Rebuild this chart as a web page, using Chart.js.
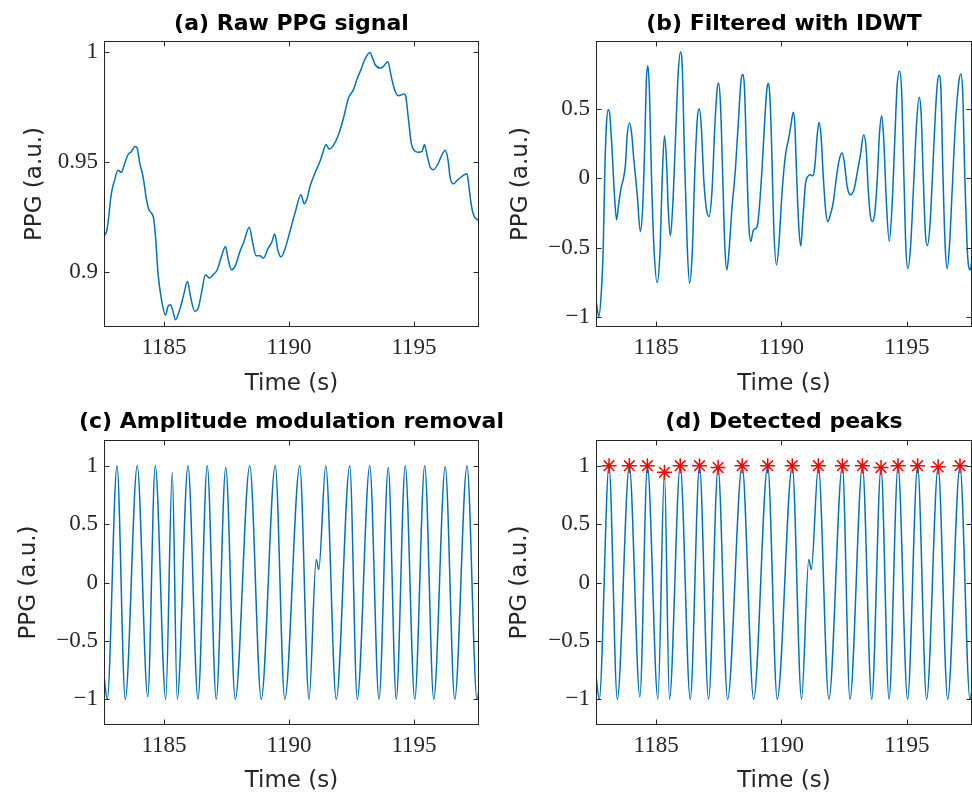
<!DOCTYPE html>
<html><head><meta charset="utf-8">
<script src="https://cdn.jsdelivr.net/npm/chart.js@4.4.1/dist/chart.umd.min.js"></script>
<style>
html,body{margin:0;padding:0;background:#fff;width:972px;height:797px;overflow:hidden}
canvas{position:absolute}
</style></head><body>
<canvas id="ca" width="583" height="400" style="left:0px;top:0px"></canvas>
<canvas id="cb" width="596" height="400" style="left:486px;top:0px"></canvas>
<canvas id="cc" width="583" height="397" style="left:0px;top:400px"></canvas>
<canvas id="cd" width="596" height="397" style="left:486px;top:400px"></canvas>
<script>
// ---------- data ----------
const titles = ['(a) Raw PPG signal', '(b) Filtered with IDWT', '(c) Amplitude modulation removal', '(d) Detected peaks'];
const xLabel = 'Time (s)';
const yLabel = 'PPG (a.u.)';

const xTicks = [1185, 1190, 1195];
const xTickLabels = ['1185', '1190', '1195'];
const yTicksA = [0.9, 0.95, 1];
const yTickLabelsA = ['0.9', '0.95', '1'];
const yTicksB = [-1, -0.5, 0, 0.5];
const yTickLabelsB = ['\u22121', '\u22120.5', '0', '0.5'];
const yTicksC = [-1, -0.5, 0, 0.5, 1];
const yTickLabelsC = ['\u22121', '\u22120.5', '0', '0.5', '1'];

// (a) raw PPG
const timeA = [1182.60,1182.72,1182.90,1183.03,1183.16,1183.30,1183.39,1183.56,1183.70,1183.84,1183.92,1184.03,1184.16,1184.30,1184.40,1184.50,1184.59,1184.67,1184.76,1184.90,1185.06,1185.16,1185.26,1185.34,1185.46,1185.63,1185.79,1185.94,1186.06,1186.23,1186.37,1186.50,1186.66,1186.81,1186.97,1187.13,1187.30,1187.46,1187.57,1187.70,1187.84,1188.04,1188.20,1188.41,1188.55,1188.68,1188.84,1188.97,1189.17,1189.31,1189.43,1189.55,1189.68,1189.84,1190.04,1190.24,1190.48,1190.61,1190.71,1190.84,1191.04,1191.24,1191.35,1191.48,1191.61,1191.75,1191.98,1192.18,1192.38,1192.58,1192.71,1192.88,1193.04,1193.24,1193.34,1193.45,1193.65,1193.78,1193.95,1194.09,1194.22,1194.38,1194.61,1194.67,1194.78,1194.89,1195.02,1195.18,1195.32,1195.42,1195.52,1195.65,1195.78,1195.96,1196.12,1196.25,1196.36,1196.45,1196.58,1196.72,1196.92,1197.12,1197.18,1197.28,1197.38,1197.56,1197.62];
const ppgRaw = [0.9162,0.9192,0.9360,0.9420,0.9462,0.9453,0.9480,0.9533,0.9548,0.9571,0.9565,0.9495,0.9435,0.9329,0.9283,0.9268,0.9241,0.9147,0.8995,0.8874,0.8804,0.8844,0.8851,0.8829,0.8783,0.8829,0.8897,0.8957,0.8889,0.8821,0.8836,0.8905,0.8988,0.8973,0.8988,0.9010,0.9071,0.9116,0.9056,0.9010,0.9025,0.9094,0.9139,0.9203,0.9132,0.9074,0.9074,0.9063,0.9109,0.9135,0.9173,0.9101,0.9068,0.9105,0.9185,0.9268,0.9351,0.9310,0.9329,0.9389,0.9450,0.9503,0.9541,0.9579,0.9559,0.9571,0.9624,0.9700,0.9791,0.9829,0.9874,0.9920,0.9968,0.9998,0.9973,0.9942,0.9927,0.9935,0.9956,0.9889,0.9829,0.9801,0.9809,0.9798,0.9692,0.9586,0.9551,0.9544,0.9548,0.9579,0.9533,0.9476,0.9465,0.9492,0.9533,0.9553,0.9510,0.9427,0.9401,0.9416,0.9435,0.9447,0.9405,0.9314,0.9260,0.9235,0.9230];

// (b) IDWT filtered
const timeB = [1182.62,1182.71,1182.81,1182.89,1182.95,1183.02,1183.09,1183.15,1183.24,1183.34,1183.42,1183.51,1183.60,1183.71,1183.78,1183.84,1183.94,1184.02,1184.11,1184.24,1184.37,1184.47,1184.55,1184.61,1184.67,1184.73,1184.81,1184.91,1185.04,1185.15,1185.24,1185.33,1185.41,1185.49,1185.57,1185.66,1185.77,1185.88,1185.97,1186.04,1186.13,1186.24,1186.33,1186.44,1186.54,1186.64,1186.72,1186.80,1186.90,1187.01,1187.11,1187.23,1187.34,1187.43,1187.49,1187.57,1187.67,1187.74,1187.82,1187.90,1188.03,1188.16,1188.30,1188.39,1188.46,1188.52,1188.60,1188.70,1188.78,1188.86,1188.94,1189.03,1189.12,1189.23,1189.34,1189.43,1189.48,1189.53,1189.60,1189.69,1189.80,1189.89,1190.03,1190.16,1190.29,1190.38,1190.47,1190.53,1190.60,1190.69,1190.77,1190.85,1190.96,1191.05,1191.16,1191.25,1191.33,1191.42,1191.50,1191.58,1191.66,1191.76,1191.85,1191.95,1192.06,1192.18,1192.29,1192.42,1192.51,1192.62,1192.75,1192.89,1193.02,1193.15,1193.28,1193.38,1193.46,1193.55,1193.62,1193.72,1193.82,1193.91,1194.00,1194.08,1194.18,1194.30,1194.41,1194.52,1194.61,1194.71,1194.79,1194.88,1194.96,1195.04,1195.15,1195.28,1195.39,1195.49,1195.57,1195.65,1195.74,1195.82,1195.92,1196.04,1196.14,1196.22,1196.29,1196.36,1196.44,1196.53,1196.61,1196.70,1196.81,1196.94,1197.07,1197.15,1197.23,1197.31,1197.42,1197.53,1197.61];
const ppgFiltered = [-0.90,-0.995,-0.827,-0.49,0.04,0.40,0.495,0.459,0.207,-0.13,-0.298,-0.178,-0.07,0.014,0.11,0.303,0.399,0.327,0.135,-0.106,-0.382,-0.178,0.279,0.712,0.8125,0.639,0.038,-0.49,-0.75,-0.538,-0.01,0.308,0.135,-0.25,-0.413,-0.202,0.279,0.76,0.911,0.808,0.159,-0.49,-0.755,-0.538,0.038,0.423,0.502,0.375,-0.01,-0.226,-0.274,-0.082,0.375,0.639,0.6875,0.519,-0.082,-0.49,-0.659,-0.538,-0.202,0.0625,0.471,0.712,0.748,0.663,0.207,-0.346,-0.454,-0.382,-0.363,-0.346,-0.202,0.087,0.447,0.663,0.683,0.615,0.279,-0.346,-0.623,-0.49,-0.08,0.17,0.29,0.39,0.476,0.399,0.038,-0.346,-0.486,-0.298,-0.034,0.014,0.026,0.019,0.087,0.303,0.404,0.303,0.038,-0.226,-0.31,-0.262,-0.178,-0.01,0.123,0.183,0.111,-0.058,-0.118,-0.082,0.038,0.171,0.315,0.207,-0.082,-0.274,-0.31,-0.25,-0.01,0.327,0.452,0.279,-0.154,-0.454,-0.202,0.279,0.663,0.772,0.639,0.038,-0.49,-0.649,-0.49,-0.01,0.399,0.584,0.471,0.038,-0.394,-0.483,-0.346,0.087,0.471,0.6875,0.743,0.639,0.038,-0.49,-0.649,-0.49,-0.082,0.399,0.6875,0.752,0.615,0.038,-0.538,-0.659,-0.5625];

// (c)/(d) amplitude-normalised signal
const timeC = [1182.60,1182.73,1183.12,1183.45,1183.93,1184.35,1184.65,1185.07,1185.33,1185.53,1185.96,1186.36,1186.73,1187.09,1187.47,1187.85,1188.43,1188.89,1189.45,1189.83,1190.43,1190.80,1191.09,1191.19,1191.47,1191.89,1192.43,1192.73,1193.23,1193.60,1193.97,1194.29,1194.65,1195.03,1195.43,1195.79,1196.25,1196.63,1197.12,1197.52,1197.65];
const ppgNorm = [-0.80,-1,1,-1,1,-0.98,1,-1,0.944,-1,1,-1,1,-1,0.984,-1,1,-1,1,-1,1,-1,0.196,0.111,1,-1,1,-1,1,-1,0.984,-1,1,-1,1,-1,0.99,-1,1,-1,-0.83];

// (d) detected peaks
const peakTimes = [1183.12,1183.93,1184.65,1185.33,1185.96,1186.73,1187.47,1188.43,1189.45,1190.43,1191.47,1192.43,1193.23,1193.97,1194.65,1195.43,1196.25,1197.12];
const peakValues = [1,1,1,0.944,1,1,0.984,1,1,1,1,1,1,0.984,1,1,0.99,1];

// ---------- drawing ----------
const pts = (xs, ys) => xs.map((x, i) => ({x: x, y: ys[i]}));

const boxPlugin = {
  id: 'matlabBox',
  afterDraw(chart) {
    const {ctx, chartArea: a, scales: {x, y}} = chart;
    const L = Math.round(a.left) + 0.5, R = Math.round(a.right) - 0.5;
    const T = Math.round(a.top) + 0.5, B = Math.round(a.bottom) - 0.5;
    ctx.save();
    ctx.strokeStyle = '#262626';
    ctx.lineWidth = 1;
    ctx.strokeRect(L, T, R - L, B - T);
    const len = 5;
    ctx.beginPath();
    x.ticks.forEach(t => {
      const p = Math.round(x.getPixelForValue(t.value)) + 0.5;
      ctx.moveTo(p, B); ctx.lineTo(p, B - len);
      ctx.moveTo(p, T); ctx.lineTo(p, T + len);
    });
    y.ticks.forEach(t => {
      const p = Math.round(y.getPixelForValue(t.value)) + 0.5;
      ctx.moveTo(L, p); ctx.lineTo(L + len, p);
      ctx.moveTo(R, p); ctx.lineTo(R - len, p);
    });
    ctx.stroke();
    ctx.restore();
  }
};

function makeChart(id, o) {
  const ds = [];
  if (o.markers) {
    ds.push({data: o.markers, showLine: false, pointStyle: 'star', pointRadius: 7.5, pointHoverRadius: 7.5,
      borderColor: '#FF0000', backgroundColor: '#FF0000', pointBorderWidth: 1.5, borderWidth: 1.5, order: 0});
  }
  ds.push({data: o.data, showLine: true, borderColor: '#0072BD', backgroundColor: '#0072BD', borderWidth: 1.5,
    pointRadius: 0, pointHoverRadius: 0, cubicInterpolationMode: 'monotone', fill: false, order: 1});
  return new Chart(document.getElementById(id), {
    type: 'scatter',
    data: {datasets: ds},
    options: {
      responsive: false, animation: false, devicePixelRatio: 1,
      events: [],
      layout: {padding: 0},
      plugins: {
        legend: {display: false}, tooltip: {enabled: false},
        title: {display: true, text: o.title, color: '#000000',
          font: {family: 'DejaVu Sans', size: 22, weight: 'bold', lineHeight: 1.2},
          padding: {top: o.tPadTop, bottom: o.tPadBottom}}
      },
      scales: {
        x: {
          type: 'linear', position: 'bottom', min: 1182.6, max: 1197.6,
          grid: {display: false, drawTicks: false}, border: {display: false},
          afterBuildTicks: s => { s.ticks = xTicks.map(v => ({value: v})); },
          afterFit: s => { s.height = o.xH; },
          ticks: {autoSkip: false, maxRotation: 0, minRotation: 0, padding: 7, color: '#262626',
            font: {family: 'Liberation Serif', size: 23},
            callback: v => xTickLabels[xTicks.indexOf(v)]},
          title: {display: true, text: xLabel, color: '#262626',
            font: {family: 'DejaVu Sans', size: 23, lineHeight: 1.2},
            padding: {top: 0, bottom: o.xtPad}}
        },
        y: {
          type: 'linear', position: 'left', min: o.yMin, max: o.yMax,
          grid: {display: false, drawTicks: false}, border: {display: false},
          afterBuildTicks: s => { s.ticks = o.yTicks.map(v => ({value: v})); },
          afterFit: s => { s.width = o.yW; },
          ticks: {autoSkip: false, padding: 6, color: '#262626',
            font: {family: 'Liberation Serif', size: 23},
            callback: v => o.yTickLabels[o.yTicks.indexOf(v)]},
          title: {display: true, text: yLabel, color: '#262626',
            font: {family: 'DejaVu Sans', size: 23, lineHeight: 1.2},
            padding: {top: o.ytPad, bottom: 0}}
        },
        // empty right-hand spacer so the title is centred over the plot box
        yRight: {
          type: 'linear', position: 'right', min: o.yMin, max: o.yMax, display: true,
          grid: {display: false, drawTicks: false}, border: {display: false},
          ticks: {display: false},
          afterFit: s => { s.width = o.yW; }
        }
      }
    },
    plugins: [boxPlugin]
  });
}

makeChart('ca', {title: titles[0], data: pts(timeA, ppgRaw), yMin: 0.875, yMax: 1.005,
  yTicks: yTicksA, yTickLabels: yTickLabelsA, yW: 104, xH: 73,
  tPadTop: 11.5, tPadBottom: 3.1, xtPad: 1.7, ytPad: 20.9});
makeChart('cb', {title: titles[1], data: pts(timeB, ppgFiltered), yMin: -1.07, yMax: 0.99,
  yTicks: yTicksB, yTickLabels: yTickLabelsB, yW: 110, xH: 73,
  tPadTop: 11.5, tPadBottom: 3.1, xtPad: 1.7, ytPad: 21.5});
makeChart('cc', {title: titles[2], data: pts(timeC, ppgNorm), yMin: -1.22, yMax: 1.22,
  yTicks: yTicksC, yTickLabels: yTickLabelsC, yW: 104, xH: 72,
  tPadTop: 9, tPadBottom: 4.6, xtPad: 1.9, ytPad: 15.7});
makeChart('cd', {title: titles[3], data: pts(timeC, ppgNorm), markers: pts(peakTimes, peakValues),
  yMin: -1.22, yMax: 1.22, yTicks: yTicksC, yTickLabels: yTickLabelsC, yW: 110, xH: 72,
  tPadTop: 9, tPadBottom: 4.6, xtPad: 1.9, ytPad: 20.2});
</script>
</body></html>
